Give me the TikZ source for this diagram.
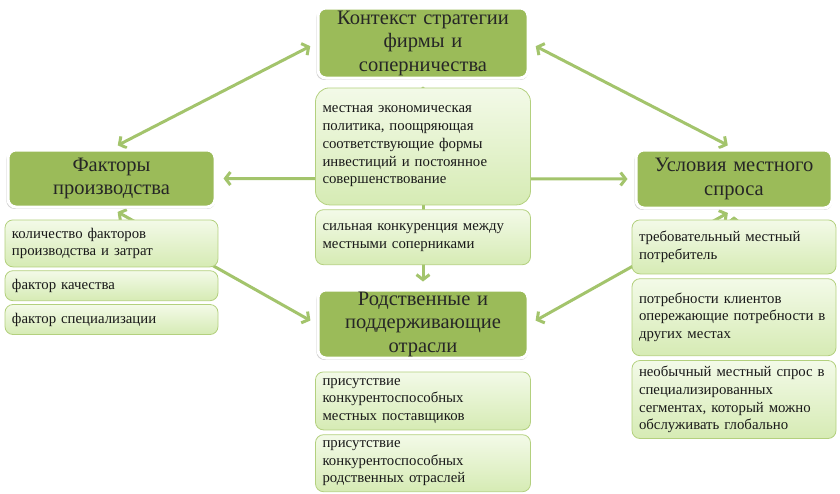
\documentclass[tikz,border=0pt]{standalone}
\usepackage{fontspec}
\setmainfont{Liberation Serif}
\usetikzlibrary{positioning,arrows.meta,shadows,backgrounds}
\definecolor{headgreen}{HTML}{9BBB59}
\definecolor{linkgreen}{HTML}{A3C46C}
\definecolor{subtop}{HTML}{F3FAE8}
\definecolor{subbot}{HTML}{D6EBB4}
\definecolor{subline}{HTML}{B3D07E}

\begin{document}
\begin{tikzpicture}[x=1pt,y=-1pt,>={Straight Barb[length=5pt,width=13pt]},
  head node/.style={rectangle,rounded corners=8pt,fill=headgreen,draw=white,line width=3pt,
    drop shadow={opacity=0.35,shadow xshift=-0.6pt,shadow yshift=-1.6pt,shadow scale=1.01},
    align=center,inner xsep=5pt,inner ysep=1pt,text=black!85,font=\fontsize{20.5}{23.5}\selectfont},
  sub node/.style={rectangle,rounded corners=8pt,top color=subtop,bottom color=subbot,draw=subline,
    line width=0.8pt,align=left,inner xsep=7pt,inner ysep=2pt,text=black!90,
    font=\fontsize{14.8}{17.8}\selectfont},
  link/.style={draw=linkgreen,line width=3pt,<->,shorten <=7pt,shorten >=7pt}]
  \useasboundingbox (0,0) rectangle (840,493);

  \node[head node,text width=200pt,minimum height=70pt] (ctx) at (423,43) {Контекст стратегии\\ фирмы и\\ соперничества};
  \node[sub node,rounded corners=14pt,text width=201pt,minimum height=117pt] (m1) [below=8pt of ctx] {местная экономическая\\ политика, поощряющая\\ соответствующие формы\\ инвестиций и постоянное\\ совершенствование};
  \node[sub node,text width=201pt,minimum height=55pt] (m2) [below=4pt of m1] {сильная конкуренция между\\ местными соперниками};

  \node[head node,text width=197pt,minimum height=57pt] (fac) at (111.5,178.5) {Факторы\\ производства};
  \node[sub node,text width=199pt,minimum height=47pt] (f1) [below=11pt of fac] {количество факторов\\ производства и затрат};
  \node[sub node,text width=199pt,minimum height=30pt] (f2) [below=3pt of f1] {фактор качества};
  \node[sub node,text width=199pt,minimum height=30pt] (f3) [below=3pt of f2] {фактор специализации};

  \node[head node,text width=186pt,minimum height=58pt] (dem) at (734,179) {Условия местного\\ спроса};
  \node[sub node,text width=190pt,minimum height=54pt] (d1) [below=10pt of dem] {требовательный местный\\ потребитель};
  \node[sub node,text width=190pt,minimum height=77pt] (d2) [below=4pt of d1] {потребности клиентов\\ опережающие потребности в\\ других местах};
  \node[sub node,text width=190pt,minimum height=78pt] (d3) [below=4pt of d2] {необычный местный спрос в\\ специализированных\\ сегментах, который можно\\ обслуживать глобально};

  \node[head node,text width=200pt,minimum height=68pt] (rel) at (423,324) {Родственные и\\ поддерживающие\\ отрасли};
  \node[sub node,text width=201pt,minimum height=58pt] (r1) [below=12pt of rel] {присутствие\\ конкурентоспособных\\ местных поставщиков};
  \node[sub node,text width=201pt,minimum height=57pt] (r2) [below=4pt of r1] {присутствие\\ конкурентоспособных\\ родственных отраслей};

  \begin{scope}[on background layer]
    \path[link]
      (ctx.west) edge (fac.north)
      (ctx.east) edge (dem.north)
      (fac.east) edge (dem.west)
      (ctx.south) edge (rel.north)
      (fac.south) edge (rel.west)
      (dem.south) edge (rel.east)
    ;
  \end{scope}
\end{tikzpicture}
\end{document}
